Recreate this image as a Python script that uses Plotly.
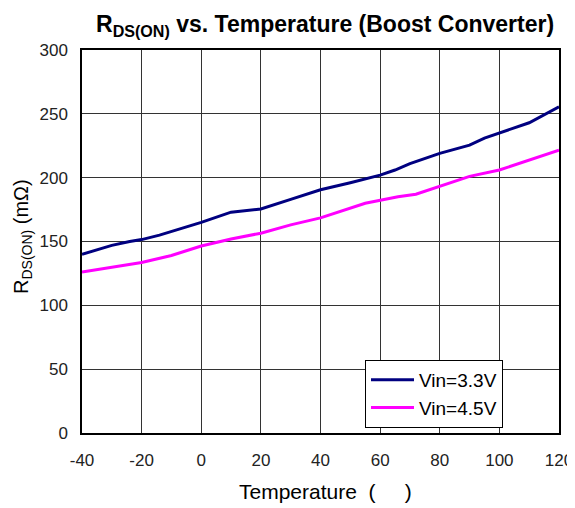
import plotly.graph_objects as go

temp_33 = [-40, -30, -24, -20, -14, 0, 10, 20, 30, 40, 50, 60, 65, 70, 80, 90, 95, 100, 110, 120]
rds_33 = [140, 147, 150, 151.5, 155, 165, 173, 175.5, 183, 190.5, 196, 202, 206, 211, 219, 225.5, 231, 235, 243, 255.5]

temp_45 = [-40, -30, -20, -10, 0, 10, 20, 30, 40, 55, 60, 66, 72, 80, 90, 100, 110, 120]
rds_45 = [126, 129.5, 133.5, 139, 146.5, 152, 156.5, 163, 168.5, 180, 182.5, 185, 187, 193, 201, 206, 213.5, 221.5]

x_ticks = [-40, -20, 0, 20, 40, 60, 80, 100, 120]
y_ticks = [0, 50, 100, 150, 200, 250, 300]

# page has an 8px body margin; layout sizes compensate for it
O = 8
W, H = 575 - O, 508 - O
L, R, T, B = 82 - O, 16, 50 - O, 75
PW, PH = W - L - R, H - T - B


def px_x(x):  # page pixel -> paper x
    return (x - O - L) / PW


def px_y(y):  # page pixel -> paper y
    return ((H - B) - (y - O)) / PH


fig = go.Figure()
fig.add_trace(go.Scatter(x=temp_33, y=rds_33, mode="lines", name="Vin=3.3V",
                         line=dict(color="#000080", width=3)))
fig.add_trace(go.Scatter(x=temp_45, y=rds_45, mode="lines", name="Vin=4.5V",
                         line=dict(color="#FF00FF", width=3)))

font = "Liberation Sans, Arial, sans-serif"
fig.update_layout(
    width=W, height=H,
    margin=dict(l=L, r=R, t=T, b=B, autoexpand=False),
    plot_bgcolor="white", paper_bgcolor="white",
    font=dict(family=font, size=17, color="#000"),
    showlegend=True,
    xaxis=dict(range=[-40, 120], tickvals=x_ticks, ticktext=[str(v) for v in x_ticks],
               showgrid=True, gridcolor="#333", gridwidth=1,
               showline=True, linecolor="#000", linewidth=1.5, mirror=True,
               ticks="", zeroline=False, automargin=False, ticklabelstandoff=11,
               tickfont=dict(size=17, color="#222")),
    yaxis=dict(range=[0, 300], tickvals=y_ticks,
               showgrid=True, gridcolor="#333", gridwidth=1,
               showline=True, linecolor="#000", linewidth=1.5, mirror=True,
               ticks="", zeroline=False, automargin=False, ticklabelstandoff=9,
               tickfont=dict(size=17, color="#222")),
    legend=dict(x=px_x(365), y=px_y(428), xanchor="left", yanchor="bottom",
                bgcolor="white", bordercolor="#000", borderwidth=1,
                itemwidth=43,
                font=dict(size=19, color="#000"), tracegroupgap=0),
    annotations=[
        dict(text="<b>R<sub>DS(ON)</sub> vs. Temperature (Boost Converter)</b>",
             xref="paper", yref="paper", x=px_x(325), y=px_y(8.5),
             xanchor="center", yanchor="top", showarrow=False,
             font=dict(size=23, color="#000")),
        dict(text="Temperature  (     )", xref="paper", yref="paper",
             x=px_x(325), y=px_y(491),
             xanchor="center", yanchor="middle", showarrow=False,
             font=dict(size=21, color="#000")),
        dict(text="R<sub>DS(ON)</sub> (mΩ)", xref="paper", yref="paper",
             x=px_x(22), y=px_y(237),
             xanchor="center", yanchor="middle", showarrow=False, textangle=-90,
             font=dict(size=20, color="#000")),
    ],
)

fig.write_html("out.html")
